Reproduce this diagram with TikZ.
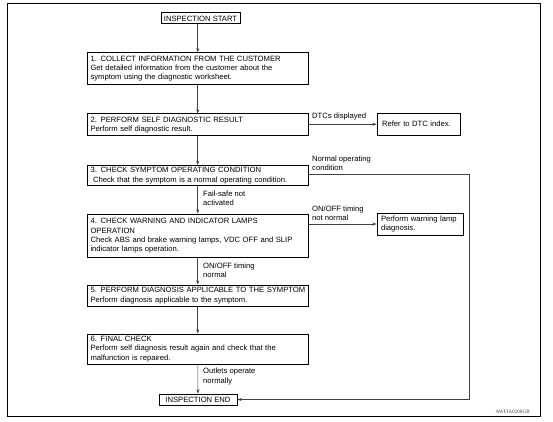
\documentclass[tikz,border=0pt]{standalone}
\usepackage{fontspec}
\setmainfont{Liberation Sans}
\newfontfamily\codefont{Liberation Serif}
\usetikzlibrary{arrows.meta}
\begin{document}
\begin{tikzpicture}[x=1pt,y=1pt,
  txt/.style={font=\fontsize{7.65}{9.3}\selectfont},
  mainbox/.style={txt,draw=black,line width=1pt,inner xsep=3.5pt,inner ysep=0pt,
    text width=214.5pt,align=left,minimum height=#1},
  endbox/.style={txt,draw=black,line width=1pt,inner sep=0pt,minimum width=#1,minimum height=11pt},
  sidebox/.style={txt,draw=black,line width=1pt,inner ysep=0pt,align=left},
  lbl/.style={txt,inner sep=0pt,align=left,anchor=west},
  arr/.style={draw=black!75,line width=0.6pt,-{Stealth[length=4pt,width=3pt]}},
  conn/.style={draw=black!75,line width=0.6pt}]
\useasboundingbox (0,0) rectangle (553,421);
\draw[line width=1pt] (7.5,417) rectangle (540,5);
\node[anchor=east,inner sep=0pt,font=\codefont\fontsize{5.2}{6}\selectfont,text=black!70] (code) at (530,9) {AWFIA0208GB};

\node[endbox=79pt] (start) at (200.5,402.5) {INSPECTION START};
\node[mainbox=31.6pt] (b1) at (197.75,352.5) {\mbox{1. COLLECT INFORMATION FROM THE CUSTOMER}\\\mbox{Get detailed information from the customer about the}\\\mbox{symptom using the diagnostic worksheet.}};
\node[mainbox=21.7pt] (b2) at (197.75,296.15) {\mbox{2. PERFORM SELF DIAGNOSTIC RESULT}\\\mbox{Perform self diagnostic result.}};
\node[mainbox=20.4pt] (b3) at (197.75,245.5) {\mbox{3. CHECK SYMPTOM OPERATING CONDITION}\\\mbox{\hspace*{2.5pt}Check that the symptom is a normal operating condition.}};
\node[mainbox=43.7pt] (b4) at (197.75,185.15) {\mbox{4. CHECK WARNING AND INDICATOR LAMPS}\\\mbox{OPERATION}\\\mbox{Check ABS and brake warning lamps, VDC OFF and SLIP}\\\mbox{indicator lamps operation.}};
\node[mainbox=21pt] (b5) at (197.75,125.5) {\mbox{5. PERFORM DIAGNOSIS APPLICABLE TO THE SYMPTOM}\\\mbox{Perform diagnosis applicable to the symptom.}};
\node[mainbox=30pt] (b6) at (197.75,72) {\mbox{6. FINAL CHECK}\\\mbox{Perform self diagnosis result again and check that the}\\\mbox{malfunction is repaired.}};
\node[endbox=78pt] (end) at (198,21.5) {INSPECTION END};

\node[sidebox,inner xsep=5pt,text width=73pt,minimum height=21.5pt] (dtc) at (418.5,296.75) {Refer to DTC index.};
\node[sidebox,inner xsep=4pt,text width=78pt,minimum height=22pt] (warn) at (420,197) {\mbox{Perform warning lamp}\\diagnosis.};

\coordinate (rc) at (469,247);

\draw[arr] (start.south -| b1) -- (b1.north);
\draw[arr] (b1) -- (b2);
\draw[arr] (b2) -- (b3);
\draw[arr] (b3) -- (b4);
\draw[arr] (b4) -- (b5);
\draw[arr] (b5) -- (b6);
\draw[arr] (b6) -- (end);
\draw[arr] (b2.east |- dtc.west) -- (dtc.west);
\draw[arr] (b4.east |- warn.west) -- (warn.west);
\draw[conn] (b3.east |- rc) -- (rc);
\draw[arr] (rc) |- (end.east);

\node[lbl] (l1) at (312,304) {DTCs displayed};
\node[lbl] (l2) at (312,257.5) {Normal operating\\condition};
\node[lbl] (l3) at (312,207.5) {ON/OFF timing\\not normal};
\node[lbl] (l4) at (203,223) {Fail-safe not\\activated};
\node[lbl] (l5) at (203,151) {ON/OFF timing\\normal};
\node[lbl] (l6) at (203,44.5) {Outlets operate\\normally};
\end{tikzpicture}
\end{document}
